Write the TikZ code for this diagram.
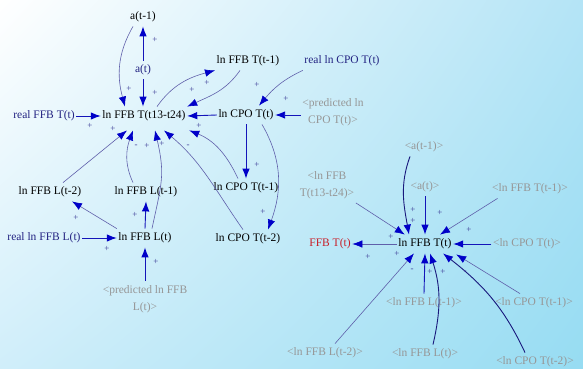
\documentclass[tikz,border=0pt]{standalone}
\usepackage{fontspec}
\setmainfont{Liberation Serif}
\usetikzlibrary{arrows.meta,shadings}
\definecolor{navytxt}{RGB}{35,35,130}
\definecolor{greytxt}{RGB}{150,150,150}
\definecolor{redtxt}{RGB}{200,30,40}
\definecolor{blueline}{RGB}{20,20,185}
\definecolor{purpline}{RGB}{95,95,170}
\definecolor{navyline}{RGB}{25,25,125}
\definecolor{headblue}{RGB}{0,0,200}
\definecolor{polcol}{RGB}{60,60,150}
\definecolor{bgUR}{RGB}{180,228,246}
\definecolor{bgLL}{RGB}{208,238,250}
\definecolor{bgLR}{RGB}{150,220,242}
\tikzset{
 lab/.style={font=\fontsize{11.5}{17}\selectfont, inner xsep=1.5pt, inner ysep=4pt, text=black},
 realv/.style={lab,text=navytxt},
 shadowv/.style={lab,text=greytxt,align=center},
 arr/.style={draw=blueline, line width=0.9pt, -{Latex[length=10pt,width=7.5pt,color=headblue]}},
 carr/.style={draw=purpline, line width=0.6pt, -{Latex[length=10pt,width=7.5pt,color=headblue]}},
 narr/.style={draw=navyline, line width=0.9pt, -{Latex[length=10pt,width=7.5pt,color=headblue]}},
 pol/.style={font=\fontsize{9}{9}\selectfont, text=polcol, inner sep=0pt},
}
\begin{document}
\begin{tikzpicture}[x=1pt,y=1pt]
\shade[upper left=white, upper right=bgUR, lower left=bgLL, lower right=bgLR] (0,0) rectangle (583,-369);
\useasboundingbox (0,0) rectangle (583,-369);

% left diagram nodes
\node[lab] (at1) at (143,-17) {a(t-1)};
\node[realv] (at) at (143,-70) {a(t)};
\node[lab] (ffbT1) at (248,-61) {ln FFB T(t-1)};
\node[realv] (realcpo) at (342,-61) {real ln CPO T(t)};
\node[realv] (realffb) at (44,-116) {real FFB T(t)};
\node[lab] (ffbT) at (144,-116) {ln FFB T(t13-t24)};
\node[lab] (cpo) at (246,-115) {ln CPO T(t)};
\node[shadowv] (predcpo) at (333,-112) {<predicted ln\\CPO T(t)>};
\node[lab] (L2) at (50,-192) {ln FFB L(t-2)};
\node[lab] (L1) at (146,-192) {ln FFB L(t-1)};
\node[lab] (cpo1) at (246,-188) {ln CPO T(t-1)};
\node[lab] (cpo2) at (248,-239) {ln CPO T(t-2)};
\node[realv] (realL) at (44,-238) {real ln FFB L(t)};
\node[lab] (L) at (145,-238) {ln FFB L(t)};
\node[shadowv] (predL) at (145,-299) {<predicted ln FFB\\L(t)>};

% right diagram nodes
\node[shadowv] (ra1) at (424,-147) {<a(t-1)>};
\node[shadowv] (rffbT) at (327,-185) {<ln FFB\\T(t13-t24)>};
\node[shadowv] (ra) at (425,-187) {<a(t)>};
\node[shadowv] (rffbT1) at (530,-189) {<ln FFB T(t-1)>};
\node[lab,text=redtxt] (out) at (330,-244) {FFB T(t)};
\node[lab] (c) at (425,-244) {ln FFB T(t)};
\node[shadowv] (rcpo) at (527,-244) {<ln CPO T(t)>};
\node[shadowv] (rL1) at (424,-303) {<ln FFB L(t-1)>};
\node[shadowv] (rcpo1) at (534,-303) {<ln CPO T(t-1)>};
\node[shadowv] (rL2) at (325,-353) {<ln FFB L(t-2)>};
\node[shadowv] (rL) at (425,-354) {<ln FFB L(t)>};
\node[shadowv] (rcpo2) at (535,-362) {<ln CPO T(t-2)>};

% left connectors
\draw[arr] (at.north) -- (at1.south);
\draw[arr] (at.south) -- (at.south |- ffbT.north);
\draw[carr] ([xshift=-10pt]at1.south) to[out=240,in=105] ([xshift=-19pt]ffbT.north);
\draw[carr] ([xshift=13pt]ffbT.north) to[out=55,in=195] (ffbT1.south west);
\draw[carr] ([xshift=-8pt]ffbT1.south) to[out=235,in=25] (ffbT.north east);
\draw[carr] (realcpo.south west) to[out=205,in=50] ([xshift=13pt]cpo.north);
\draw[arr] (cpo.east -| predcpo.west) -- (cpo.east);
\draw[arr] (cpo.west) -- (ffbT.east);
\draw[arr] (realffb.east) -- (ffbT.west);
\draw[carr] ([xshift=13pt]L2.north) -- ([xshift=-17pt,yshift=-5pt]ffbT.south);
\draw[carr] ([xshift=-13pt]L1.north) to[out=115,in=250] ([xshift=-11pt,yshift=-5pt]ffbT.south);
\draw[carr] ([xshift=7pt]L.north) to[out=78,in=283,looseness=1.2] ([xshift=11pt,yshift=-5pt]ffbT.south);
\draw[carr] ([xshift=-5pt]cpo2.north) to[out=125,in=-40] ([xshift=20pt,yshift=-5pt]ffbT.south);
\draw[carr] ([xshift=-8pt]cpo1.north) to[out=115,in=-22] ([xshift=2pt,yshift=-5pt]ffbT.south east);
\draw[arr] (cpo.south) -- (cpo1.north);
\draw[carr] ([xshift=16pt]cpo.south) to[out=-60,in=70] ([xshift=20pt]cpo2.north);
\draw[carr] (L.north west) -- ([xshift=22pt]L2.south);
\draw[arr] (L.north) -- (L1.south);
\draw[arr] (realL.east) -- (L.west);
\draw[arr] (predL.north) -- (L.south);

% right connectors
\draw[narr] ([xshift=-14pt]ra1.south) to[out=250,in=100] ([xshift=-16pt]c.north);
\draw[arr] (ra.south) -- (c.north);
\draw[carr] (rffbT.south east) -- ([xshift=8pt]c.north west);
\draw[carr] ([xshift=7pt]rffbT1.south west) -- ([xshift=15pt]c.north);
\draw[arr] (rcpo.west) -- (c.east);
\draw[carr] (c.west) -- (out.east);
\draw[carr] ([xshift=10pt]rL2.north) -- ([xshift=-11pt]c.south);
\draw[arr] (rL1.north) -- (c.south);
\draw[narr] ([xshift=8pt]rL.north) to[out=77,in=-72] ([xshift=5pt]c.south);
\draw[carr] ([xshift=-14pt]rcpo1.north) -- ([xshift=3pt,yshift=-1pt]c.south east);
\draw[narr] ([xshift=-10pt]rcpo2.north) to[out=115,in=-38] ([xshift=18pt]c.south);

% polarity signs left
\node[pol] (p1) at (155,-40) {+};
\node[pol] (p2) at (155,-93) {+};
\node[pol] (p3) at (129,-89) {+};
\node[pol] (p4) at (207,-83) {+};
\node[pol] (p5) at (192,-90) {+};
\node[pol] (p6) at (257,-85) {+};
\node[pol] (p7) at (286,-99) {+};
\node[pol] (p8) at (199,-126) {+};
\node[pol] (p9) at (90,-126) {+};
\node[pol] (p10) at (113,-129) {+};
\node[pol] (p11) at (136,-146) {-};
\node[pol] (p12) at (147,-146) {+};
\node[pol] (p13) at (162,-144) {+};
\node[pol] (p14) at (188,-146) {-};
\node[pol] (p15) at (257,-165) {+};
\node[pol] (p16) at (263,-212) {+};
\node[pol] (p17) at (76,-218) {+};
\node[pol] (p18) at (135,-215) {+};
\node[pol] (p19) at (107,-249) {+};
\node[pol] (p20) at (156,-262) {+};
% polarity signs right
\node[pol] (q1) at (413,-210) {+};
\node[pol] (q2) at (413,-221) {+};
\node[pol] (q3) at (440,-213) {+};
\node[pol] (q4) at (469,-230) {+};
\node[pol] (q5) at (391,-237) {+};
\node[pol] (q6) at (368,-257) {+};
\node[pol] (q7) at (397,-254) {+};
\node[pol] (q8) at (412,-270) {-};
\node[pol] (q9) at (430,-272) {+};
\node[pol] (q10) at (443,-272) {+};
\node[pol] (q11) at (465,-272) {-};
\end{tikzpicture}
\end{document}
